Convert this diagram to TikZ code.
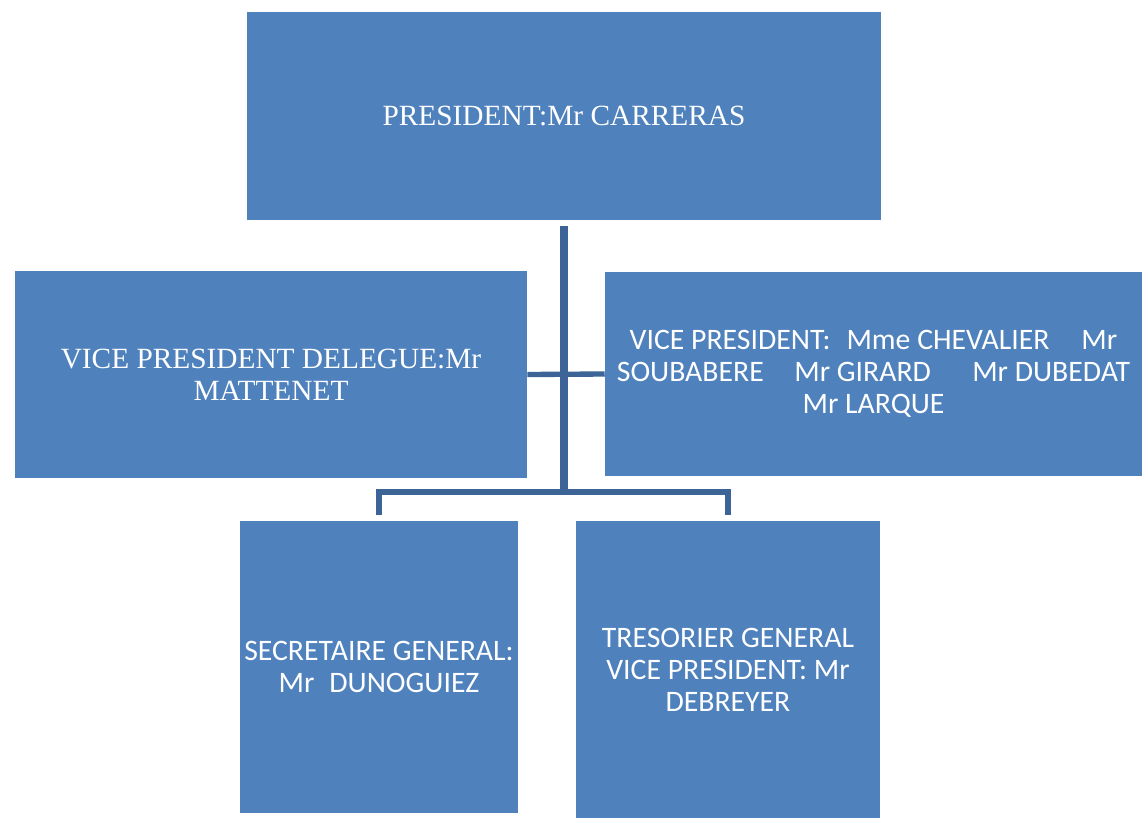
\documentclass[tikz,border=0pt]{standalone}
\usepackage{fontspec}
\setmainfont{Liberation Serif}
\newfontfamily\carlitofont{Carlito}
\definecolor{boxblue}{HTML}{4F81BD}
\definecolor{linkblue}{HTML}{3C6496}
\begin{document}
\begin{tikzpicture}[x=0.75pt,y=-0.75pt,
  orgbox/.style={rectangle,fill=boxblue,draw=none,text=white,align=center,inner sep=0pt},
  serifbox/.style={orgbox,font=\fontsize{22}{24}\selectfont},
  sansbox/.style={orgbox,font=\carlitofont\fontsize{22.3}{24}\selectfont},
  conn/.style={draw=linkblue,line width=4pt}]
\useasboundingbox (0,0) rectangle (1142,818);
\node[serifbox,minimum width=475.5pt,minimum height=156pt] (top) at (564,116) {PRESIDENT:Mr CARRERAS};
\node[serifbox,minimum width=384pt,minimum height=155.25pt] (left) at (271,374.5) {VICE PRESIDENT DELEGUE:Mr\\MATTENET};
\node[sansbox,minimum width=402.75pt,minimum height=153pt] (right) at (873.5,374) {VICE PRESIDENT:\hspace{12pt}Mme CHEVALIER\hspace{24pt}Mr\\SOUBABERE\hspace{23pt}Mr GIRARD\hspace{31pt}Mr DUBEDAT\\Mr LARQUE};
\node[sansbox,minimum width=208.5pt,minimum height=219pt] (bl) at (379,667) {SECRETAIRE GENERAL:\\Mr\hspace{0.5em}DUNOGUIEZ};
\node[sansbox,minimum width=228pt,minimum height=222.75pt] (br) at (728,669.5) {TRESORIER GENERAL\\VICE PRESIDENT: Mr\\DEBREYER};
\coordinate (j) at (564,492);
\draw[conn,line width=6pt] ([yshift=-4.5pt]top.south) -- (j);
\draw[conn] (left.east) -- (right.west);
\draw[conn] ([yshift=4.5pt]bl.north) |- (j) -| ([yshift=4.5pt]br.north);
\end{tikzpicture}
\end{document}
